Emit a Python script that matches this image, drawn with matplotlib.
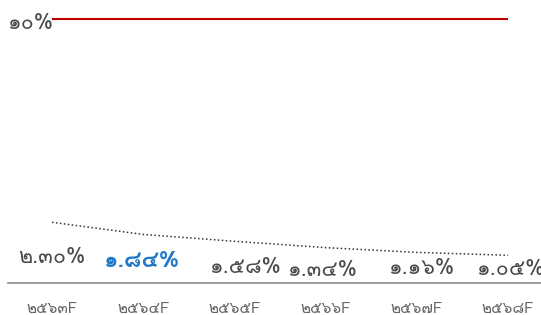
import matplotlib
matplotlib.use("Agg")
import matplotlib.pyplot as plt
from matplotlib.lines import Line2D

years = ["๒๕๖๓F", "๒๕๖๔F", "๒๕๖๕F", "๒๕๖๖F", "๒๕๖๗F", "๒๕๖๘F"]
values = [2.30, 1.84, 1.58, 1.34, 1.16, 1.05]
labels = ["๒.๓๐%", "๑.๘๔%", "๑.๕๘%", "๑.๓๔%", "๑.๑๖%", "๑.๐๕%"]
target = 10
target_label = "๑๐%"

# label placement (pixels, relative to point) -- style only
label_dx = [0, -1, 11, -4, 4, 2]
label_dy = [-35, -27, -26, -23, -16, -14]
highlight = 1

FONT = ['Loma', 'DejaVu Sans']
W, H = 541, 315
fig = plt.figure(figsize=(W/100, H/100), dpi=100)
ax = fig.add_axes([52/W, 1-283/H, (508-52)/W, (283-19)/H])
ax.set_xlim(0, len(values)-1)
ax.set_ylim(0, target)
ax.axis('off')

x = list(range(len(values)))
ax.plot(x, values, color='#333333', lw=1.1, ls=(0, (1, 1.6)), clip_on=False)
ax.plot([0, len(values)-1], [target, target], color='#c00000', lw=1.5, clip_on=False, solid_capstyle='butt')

for i, (v, lab) in enumerate(zip(values, labels)):
    hl = (i == highlight)
    ax.annotate(lab, (i, v), xytext=(label_dx[i]*0.72, label_dy[i]*0.72), textcoords='offset points',
                ha='center', va='center', fontsize=16.5 if hl else 15.5,
                fontweight='bold' if hl else 'normal',
                color='#1f78c8' if hl else '#4a4a4a', family=FONT, annotation_clip=False)

ax.annotate(target_label, (0, target), xytext=(1, -3.5), textcoords='offset points', ha='right', va='center',
            fontsize=15.5, color='#4a4a4a', family=FONT, annotation_clip=False)

for i, yl in enumerate(years):
    ax.annotate(yl, (i, 0), xytext=(0, -14), textcoords='offset points', ha='center', va='top',
                fontsize=11, color='#666666', family=FONT, annotation_clip=False)

fig.add_artist(Line2D([8/W, 1], [1-283/H, 1-283/H], color='#8c8c8c', lw=1.2))

fig.savefig("out.png", dpi=100)
